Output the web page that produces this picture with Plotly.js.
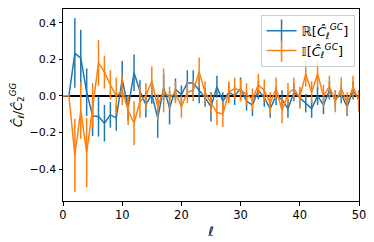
<!DOCTYPE html>
<html>
<head>
<meta charset="utf-8">
<script src="https://cdn.plot.ly/plotly-3.0.1.min.js"></script>
<style>html,body{margin:0;padding:0;background:#fff;}#chart{width:374px;height:242px;}</style>
</head>
<body>
<div id="chart"></div>
<script>
const ell = [0,1,2,3,4,5,6,7,8,9,10,11,12,13,14,15,16,17,18,19,20,21,22,23,24,25,26,27,28,29,30,31,32,33,34,35,36,37,38,39,40,41,42,43,44,45,46,47,48,49,50];
const reVals = [0,0,0.234,0.206,0.02,-0.11,-0.113,-0.15,-0.104,-0.12,0.09,-0.066,0.126,0.025,-0.048,0.007,-0.12,0.044,-0.066,0.035,0.007,0.07,0.07,0.03,-0.01,-0.06,0.05,-0.03,0.02,0.0,0.04,-0.03,-0.05,0.03,-0.01,-0.07,0.0,-0.02,-0.07,0.02,-0.01,-0.04,-0.07,0.0,-0.05,0.03,-0.02,0.01,-0.06,0.03,-0.02];
const reErr = [0,0,0.19,0.155,0.13,0.11,0.11,0.1,0.07,0.07,0.1,0.07,0.1,0.06,0.07,0.05,0.11,0.07,0.09,0.06,0.05,0.07,0.07,0.07,0.05,0.08,0.06,0.05,0.05,0.05,0.06,0.05,0.06,0.05,0.05,0.05,0.05,0.05,0.05,0.05,0.05,0.05,0.05,0.05,0.05,0.05,0.05,0.05,0.05,0.05,0.05];
const imVals = [0,0,-0.325,-0.08,-0.31,-0.05,0.18,0.13,0.06,0.0,0.03,-0.08,-0.15,-0.03,0.0,0.08,-0.06,0.03,-0.01,0.02,-0.06,0.02,0.03,0.13,0.02,-0.04,-0.09,-0.1,0.02,0.04,0.03,0.01,-0.02,0.06,0.03,-0.04,0.04,-0.08,0.01,0.04,-0.01,0.12,0.02,0.12,0.0,0.05,-0.03,0.04,-0.04,0.05,-0.03];
const imErr = [0,0,0.2,0.155,0.19,0.12,0.125,0.09,0.08,0.1,0.08,0.08,0.12,0.09,0.07,0.08,0.07,0.12,0.06,0.06,0.06,0.06,0.06,0.08,0.06,0.06,0.07,0.07,0.06,0.06,0.06,0.06,0.06,0.06,0.06,0.06,0.06,0.07,0.06,0.06,0.06,0.07,0.06,0.07,0.06,0.06,0.06,0.06,0.06,0.06,0.06];
const xTicks = [0,10,20,30,40,50];
const yTicks = [-0.4,-0.2,0.0,0.2,0.4];
const yTickText = ['\u22120.4','\u22120.2','0.0','0.2','0.4'];
const reName = '\u211D[<i>\u0108</i><sub><i>\u2113</i></sub><sup><i>GC</i></sup>]';
const imName = '\uD835\uDD40[<i>\u0108</i><sub><i>\u2113</i></sub><sup><i>GC</i></sup>]';

const blue = '#1f77b4', orange = '#ff7f0e';
function series(y, err, color) {
  return {x: ell, y: y, type: 'scatter', mode: 'lines', showlegend: false,
    line: {color: color, width: 1.5},
    error_y: {type: 'data', array: err, visible: true, thickness: 1.5, width: 0, color: color}};
}
function legendItem(name, color) {
  return {x: [null], y: [null], type: 'scatter', mode: 'lines+markers', name: name,
    line: {color: color, width: 1.5},
    marker: {symbol: 'line-ns', size: 16, color: color, line: {color: color, width: 1.5}}};
}
const data = [series(reVals, reErr, blue), series(imVals, imErr, orange),
  legendItem(reName, blue), legendItem(imName, orange)];
const layout = {
  width: 374, height: 242,
  margin: {l: 63, r: 15, t: 9, b: 41},
  paper_bgcolor: '#fff', plot_bgcolor: '#fff',
  font: {family: 'DejaVu Sans', size: 11, color: '#000'},
  showlegend: true,
  legend: {x: 0.985, xanchor: 'right', y: 0.97, yanchor: 'top',
    bgcolor: 'rgba(255,255,255,0.8)', bordercolor: '#cccccc', borderwidth: 1,
    font: {family: 'DejaVu Sans', size: 13, color: '#000'}, itemsizing: 'trace', itemwidth: 30},
  xaxis: {range: [0, 50], tickvals: xTicks, ticks: 'outside', ticklen: 3.5, tickwidth: 1, tickcolor: '#000',
    showline: true, mirror: true, linecolor: '#000', linewidth: 1, showgrid: false, zeroline: false,
    tickfont: {size: 11.5},
    title: {text: '<i>\u2113</i>', font: {size: 13}, standoff: 5}},
  yaxis: {range: [-0.575, 0.475], tickvals: yTicks, ticktext: yTickText, ticks: 'outside', ticklen: 3.5, tickwidth: 1, tickcolor: '#000',
    showline: true, mirror: true, linecolor: '#000', linewidth: 1, showgrid: false,
    tickfont: {size: 11},
    zeroline: true, zerolinecolor: '#000', zerolinewidth: 1.5,
    title: {text: '<i>\u0108</i><sub><i>\u2113</i></sub>/<i>\u0108</i><sub>2</sub><sup><i>GG</i></sup>', font: {size: 12.5}, standoff: 4}}
};
Plotly.newPlot('chart', data, layout, {displayModeBar: false, staticPlot: true});
</script>
</body>
</html>
